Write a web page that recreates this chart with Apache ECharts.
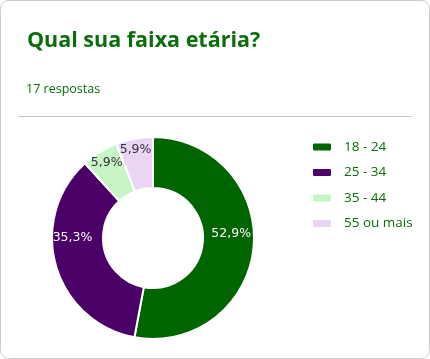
<!DOCTYPE html>
<html><head><meta charset="utf-8">
<script src="https://cdn.jsdelivr.net/npm/echarts@6/dist/echarts.min.js"></script>
<style>html,body{margin:0;padding:0;background:#fff}#c{width:430px;height:359px}</style>
</head><body><div id="c"></div>
<script>
var categories = ['18 - 24', '25 - 34', '35 - 44', '55 ou mais'];
var counts = [9, 6, 1, 1];
var colors = ['#006400', '#4a0066', '#c8f5c8', '#ead5f5'];
var labelColors = ['#ffffff', '#ffffff', '#333333', '#333333'];
var labelOffsets = [[0, -11], [-5, -22], [-5, -9], [-3, -11]];
var total = counts.reduce(function(a,b){return a+b;},0);

var chart = echarts.init(document.getElementById('c'), null, {renderer:'canvas'});
chart.setOption({
  animation:false,
  title:[{
    text:'Qual sua faixa etária?', left:22, top:25,
    textStyle:{fontFamily:'Open Sans', fontWeight:'bold', fontSize:21.5, color:'#0b6e0b'}
  },{
    text:'17 respostas', left:21, top:78,
    textStyle:{fontFamily:'Open Sans', fontWeight:'normal', fontSize:12.5, color:'#0b6e0b'}
  }],
  graphic:[
    {type:'rect', shape:{x:0.5,y:0.5,width:429,height:358,r:8}, style:{fill:'none', stroke:'#cccccc', lineWidth:1}, z:-1},
    {type:'line', shape:{x1:18,y1:116.5,x2:412,y2:116.5}, style:{stroke:'#c8c8c8', lineWidth:1}}
  ],
  legend:{
    orient:'vertical', left:306, top:135, itemWidth:20, itemHeight:9, itemGap:11.5,
    icon:'roundRect',
    textStyle:{fontFamily:'Open Sans', fontSize:13.5, color:'#0b6e0b', padding:[0,0,0,7]},
    data:categories
  },
  series:[{
    type:'pie', center:[153,238], radius:[50,101], startAngle:90, clockwise:true,
    avoidLabelOverlap:false,
    labelLayout:{hideOverlap:false},
    itemStyle:{borderColor:'#fff', borderWidth:2},
    label:{show:true, position:'inside', fontFamily:'DejaVu Sans', fontSize:12.5,
      formatter:function(p){return (p.value/total*100).toFixed(1).replace('.',',')+'%';}},
    labelLine:{show:false},
    emphasis:{disabled:true},
    data:categories.map(function(c,i){return {name:c, value:counts[i], itemStyle:{color:colors[i]}, label:{color:labelColors[i], offset:labelOffsets[i]}};})
  }]
});
</script></body></html>
